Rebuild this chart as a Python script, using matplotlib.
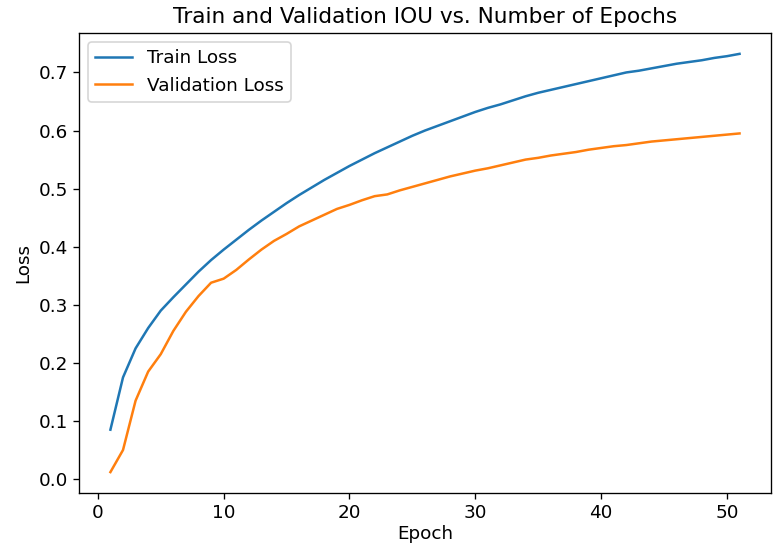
import matplotlib
matplotlib.use('Agg')
from matplotlib import pyplot as plt

# IOU values per epoch (labelled as loss in the original)
epochs = list(range(1, 52))
train_iou = [0.085, 0.175, 0.225, 0.260, 0.290, 0.313, 0.335, 0.357, 0.377, 0.395,
             0.412, 0.429, 0.445, 0.460, 0.475, 0.489, 0.502, 0.515, 0.527, 0.539,
             0.550, 0.561, 0.571, 0.581, 0.591, 0.600, 0.608, 0.616, 0.624, 0.632,
             0.639, 0.645, 0.652, 0.659, 0.665, 0.670, 0.675, 0.680, 0.685, 0.690,
             0.695, 0.700, 0.703, 0.707, 0.711, 0.715, 0.718, 0.721, 0.725, 0.728,
             0.732]
val_iou = [0.012, 0.050, 0.135, 0.185, 0.215, 0.255, 0.288, 0.315, 0.338, 0.345,
           0.360, 0.378, 0.395, 0.410, 0.422, 0.435, 0.445, 0.455, 0.465, 0.472,
           0.480, 0.487, 0.490, 0.497, 0.503, 0.509, 0.515, 0.521, 0.526, 0.531,
           0.535, 0.540, 0.545, 0.550, 0.553, 0.557, 0.560, 0.563, 0.567, 0.570,
           0.573, 0.575, 0.578, 0.581, 0.583, 0.585, 0.587, 0.589, 0.591, 0.593,
           0.595]

plt.rcParams['font.size'] = 11

fig = plt.figure(figsize=(778 / 120, 549 / 120), dpi=120)
ax = fig.add_subplot(1, 1, 1)
fig.subplots_adjust(left=0.1015, right=0.991, top=0.94, bottom=0.102)

ax.plot(epochs, train_iou, label='Train Loss')
ax.plot(epochs, val_iou, label='Validation Loss')

ax.set_title('Train and Validation IOU vs. Number of Epochs', fontsize=13)
ax.set_xlabel('Epoch', labelpad=2)
ax.set_ylabel('Loss')
ax.tick_params(pad=3)
ax.legend(loc='upper left')

fig.savefig('out.png', dpi=120)
